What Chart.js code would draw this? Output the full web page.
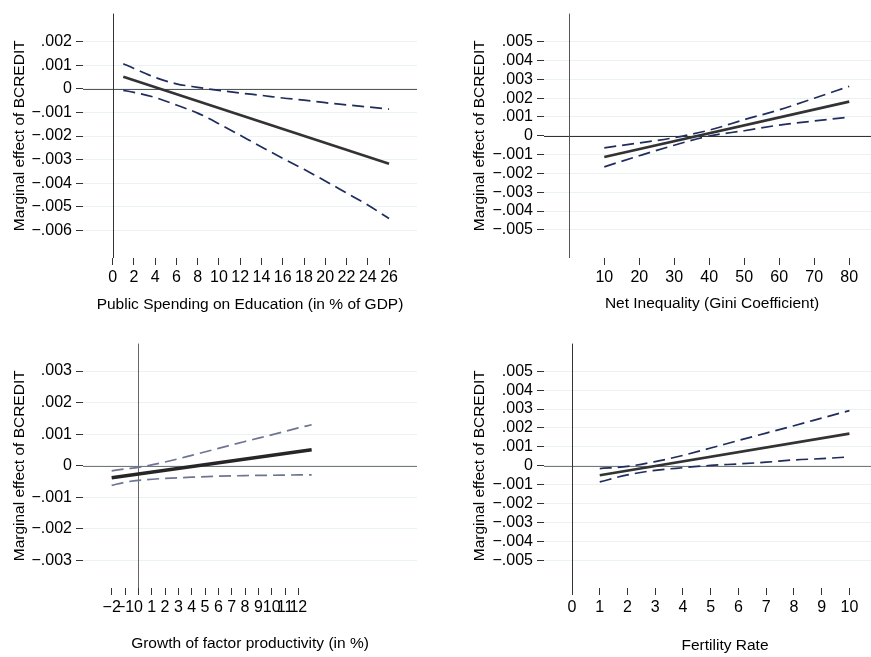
<!DOCTYPE html>
<html>
<head>
<meta charset="utf-8">
<script src="https://cdn.jsdelivr.net/npm/chart.js@4.4.0/dist/chart.umd.min.js"></script>
<style>
body { margin: 0; background: #fff; }
#wrap { position: relative; width: 871px; height: 657px; overflow: hidden; }
canvas { position: absolute; }
</style>
</head>
<body>
<div id="wrap">
  <canvas id="c1" width="435" height="330" style="left:0;top:0"></canvas>
  <canvas id="c2" width="444" height="330" style="left:436px;top:0"></canvas>
  <canvas id="c3" width="435" height="327" style="left:0;top:330px"></canvas>
  <canvas id="c4" width="470" height="327" style="left:436px;top:330px"></canvas>
</div>
<script>
// panel 1: public spending on education
const eduX = [1, 2, 4, 6, 8, 10, 12, 14, 16, 18, 20, 22, 24, 26];
const eduUpper = [0.00106, 0.00086, 0.00048, 0.00021, 0.00006, -0.00007, -0.00018, -0.00028, -0.00039, -0.00048, -0.00059, -0.00068, -0.00077, -0.00086];
const eduLower = [-0.00007, -0.00015, -0.00037, -0.00069, -0.00103, -0.00148, -0.00197, -0.00246, -0.00294, -0.00341, -0.0039, -0.00441, -0.00492, -0.00549];
const eduLineX = [1, 26];
const eduEffect = [0.00051, -0.00317];
const eduXTicks = [0, 2, 4, 6, 8, 10, 12, 14, 16, 18, 20, 22, 24, 26];
const eduYTicks = [0.002, 0.001, 0, -0.001, -0.002, -0.003, -0.004, -0.005, -0.006];
const eduYLabels = ['.002', '.001', '0', '\u2212.001', '\u2212.002', '\u2212.003', '\u2212.004', '\u2212.005', '\u2212.006'];

// panel 2: net inequality
const giniX = [10, 20, 30, 40, 50, 60, 70, 80];
const giniUpper = [-0.00064, -0.00038, -0.0001, 0.0003, 0.00086, 0.00138, 0.002, 0.00263];
const giniLower = [-0.00165, -0.00106, -0.0005, -0.00001, 0.00027, 0.00057, 0.00079, 0.00099];
const giniLineX = [10, 80];
const giniEffect = [-0.00113, 0.00182];
const giniXTicks = [10, 20, 30, 40, 50, 60, 70, 80];

// panel 3: factor productivity growth
const tfpX = [-2, -1, 0, 2, 4, 6, 8, 10, 12, 13];
const tfpUpper = [-0.00016, -0.0001, -0.00005, 0.00012, 0.00033, 0.00055, 0.00077, 0.00098, 0.0012, 0.0013];
const tfpLower = [-0.00062, -0.00052, -0.00046, -0.0004, -0.00036, -0.00033, -0.00031, -0.0003, -0.00029, -0.00029];
const tfpLineX = [-2, 13];
const tfpEffect = [-0.00038, 0.00051];
const tfpXTicks = [-2, -1, 0, 1, 2, 3, 4, 5, 6, 7, 8, 9, 10, 11, 12];
const tfpXLabels = ['\u22122', '\u22121', '0', '1', '2', '3', '4', '5', '6', '7', '8', '9', '10', '11', '12'];
const tfpYTicks = [0.003, 0.002, 0.001, 0, -0.001, -0.002, -0.003];
const tfpYLabels = ['.003', '.002', '.001', '0', '\u2212.001', '\u2212.002', '\u2212.003'];

// panel 4: fertility rate
const fertX = [1, 2, 3, 4, 5, 6, 7, 8, 9, 10];
const fertUpper = [-0.00015, -0.00003, 0.00022, 0.00055, 0.00094, 0.00134, 0.00173, 0.00212, 0.00252, 0.00292];
const fertLower = [-0.00085, -0.00048, -0.00024, -0.0001, 0.00002, 0.0001, 0.00019, 0.00031, 0.00038, 0.00047];
const fertLineX = [1, 10];
const fertEffect = [-0.0005, 0.0017];
const fertXTicks = [0, 1, 2, 3, 4, 5, 6, 7, 8, 9, 10];

// shared y ticks for panels 2 and 4
const wideYTicks = [0.005, 0.004, 0.003, 0.002, 0.001, 0, -0.001, -0.002, -0.003, -0.004, -0.005];
const wideYLabels = ['.005', '.004', '.003', '.002', '.001', '0', '\u2212.001', '\u2212.002', '\u2212.003', '\u2212.004', '\u2212.005'];

const yTitle = 'Marginal effect of BCREDIT';
const FONT = 'Liberation Sans, Arial, Helvetica, sans-serif';

Chart.defaults.font.family = FONT;
Chart.defaults.color = '#000';

function pts(xs, ys) {
    return xs.map((x, i) => ({ x: x, y: ys[i] }));
}

// xline(0) / yline(0)
const refLines = {
    id: 'refLines',
    beforeDatasetsDraw(chart, args, opts) {
        const { ctx, chartArea, scales } = chart;
        const x0 = Math.round(scales.x.getPixelForValue(0)) + 0.5;
        const y0 = Math.round(scales.y.getPixelForValue(0)) + 0.5;
        ctx.save();
        ctx.lineWidth = 1;
        ctx.strokeStyle = opts.hColor;
        ctx.beginPath();
        ctx.moveTo(chartArea.left, y0);
        ctx.lineTo(chartArea.right, y0);
        ctx.stroke();
        ctx.strokeStyle = opts.vColor;
        ctx.beginPath();
        ctx.moveTo(x0, chartArea.top);
        ctx.lineTo(x0, chartArea.bottom);
        ctx.stroke();
        ctx.restore();
    }
};

function makePanel(p) {
    const dash = {
        borderColor: p.dashColor,
        borderWidth: 1.7,
        borderDash: [12, 6],
        pointRadius: 0,
        cubicInterpolationMode: 'monotone',
        fill: false
    };
    return new Chart(document.getElementById(p.id), {
        type: 'line',
        data: {
            datasets: [
                Object.assign({ data: pts(p.x, p.upper) }, dash),
                Object.assign({ data: pts(p.x, p.lower) }, dash),
                {
                    data: pts(p.lineX, p.effect),
                    borderColor: p.solidColor,
                    borderWidth: p.solidWidth,
                    pointRadius: 0,
                    fill: false
                }
            ]
        },
        options: {
            responsive: false,
            animation: false,
            devicePixelRatio: 1,
            layout: { padding: { top: p.top, right: p.right, bottom: 0, left: 0 } },
            plugins: {
                legend: { display: false },
                tooltip: { enabled: false },
                refLines: { hColor: p.hColor, vColor: p.vColor }
            },
            scales: {
                x: {
                    type: 'linear',
                    min: p.xMin,
                    max: p.xMax,
                    border: { display: false },
                    grid: { drawOnChartArea: false, tickColor: '#333', tickLength: 7 },
                    ticks: {
                        autoSkip: false,
                        maxRotation: 0,
                        padding: 3,
                        font: { size: 16 },
                        callback: (v, i) => p.xLabels ? p.xLabels[i] : String(p.xTicks[i])
                    },
                    afterBuildTicks: (ax) => { ax.ticks = p.xTicks.map(v => ({ value: v })); },
                    afterFit: (ax) => { ax.height = p.xHeight; },
                    title: {
                        display: true,
                        text: p.xTitle,
                        font: { size: 15.5 },
                        padding: { top: 0, bottom: p.xTitlePad }
                    }
                },
                y: {
                    type: 'linear',
                    min: p.yMin,
                    max: p.yMax,
                    border: { display: false },
                    grid: { color: '#eaf2f3', tickColor: '#333', tickLength: 7 },
                    ticks: {
                        padding: 4,
                        font: { size: 16 },
                        callback: (v, i) => p.yLabels[i]
                    },
                    afterBuildTicks: (ax) => { ax.ticks = p.yTicks.map(v => ({ value: v })); },
                    afterFit: (ax) => { ax.width = p.yWidth; },
                    title: {
                        display: true,
                        text: yTitle,
                        font: { size: 15.5 },
                        padding: { top: p.yTitlePad, bottom: 0 }
                    }
                }
            }
        },
        plugins: [refLines]
    });
}

makePanel({
    id: 'c1', x: eduX, upper: eduUpper, lower: eduLower, lineX: eduLineX, effect: eduEffect,
    xTicks: eduXTicks, yTicks: eduYTicks, yLabels: eduYLabels,
    xMin: -2.79, xMax: 28.63, yMin: -0.00716, yMax: 0.00318,
    top: 8, right: 18, xHeight: 72, yWidth: 83, xTitlePad: 15.7, yTitlePad: 10.7,
    xTitle: 'Public Spending on Education (in % of GDP)',
    dashColor: '#1f2c5c', solidColor: '#333333', solidWidth: 2.7, hColor: '#555', vColor: '#333'
});

makePanel({
    id: 'c2', x: giniX, upper: giniUpper, lower: giniLower, lineX: giniLineX, effect: giniEffect,
    xTicks: giniXTicks, yTicks: wideYTicks, yLabels: wideYLabels,
    xMin: -7.23, xMax: 88.8, yMin: -0.0065, yMax: 0.0065,
    top: 8, right: 0, xHeight: 72, yWidth: 108, xTitlePad: 16.7, yTitlePad: 34,
    xTitle: 'Net Inequality (Gini Coefficient)',
    dashColor: '#1f2c5c', solidColor: '#333333', solidWidth: 2.7, hColor: '#333', vColor: '#555'
});

makePanel({
    id: 'c3', x: tfpX, upper: tfpUpper, lower: tfpLower, lineX: tfpLineX, effect: tfpEffect,
    xTicks: tfpXTicks, xLabels: tfpXLabels, yTicks: tfpYTicks, yLabels: tfpYLabels,
    xMin: -4.15, xMax: 20.9, yMin: -0.00387, yMax: 0.00387,
    top: 9, right: 18, xHeight: 69, yWidth: 83, xTitlePad: 4.4, yTitlePad: 10.7,
    xTitle: 'Growth of factor productivity (in %)',
    dashColor: '#6d7593', solidColor: '#262626', solidWidth: 3.4, hColor: '#777', vColor: '#666'
});

makePanel({
    id: 'c4', x: fertX, upper: fertUpper, lower: fertLower, lineX: fertLineX, effect: fertEffect,
    xTicks: fertXTicks, yTicks: wideYTicks, yLabels: wideYLabels,
    xMin: -1.01, xMax: 12.04, yMin: -0.00646, yMax: 0.00646,
    top: 9, right: 0, xHeight: 69, yWidth: 108, xTitlePad: 1.7, yTitlePad: 34,
    xTitle: 'Fertility Rate',
    dashColor: '#1f2c5c', solidColor: '#333333', solidWidth: 2.7, hColor: '#777', vColor: '#333'
});
</script>
</body>
</html>
